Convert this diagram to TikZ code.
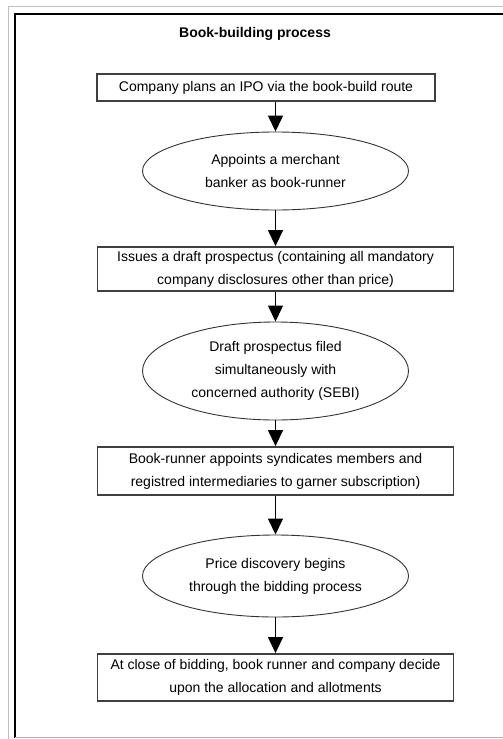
\documentclass[tikz,border=0pt]{standalone}
\usepackage{fontspec}
\setmainfont{Liberation Sans}
\usetikzlibrary{arrows.meta, shapes.geometric}

\begin{document}
\begin{tikzpicture}[x=1pt, y=1pt, font=\fontsize{14}{23}\selectfont,
        stepbox/.style={draw=black!75, line width=1.8pt, rectangle, align=center, inner sep=0pt, minimum width=356pt},
        stepoval/.style={draw=black!80, line width=0.9pt, ellipse, align=center, inner sep=0pt, minimum width=266pt},
        flow/.style={-{Triangle[length=16pt, width=15pt]}, line width=1.3pt}]
        \useasboundingbox (0,0) rectangle (503,-739);
        % frame
        \draw[black!25, line width=1pt] (8,-739) -- (8,-6) -- (503,-6);
        \draw[line width=1.5pt] (15,-738) -- (15,-14) -- (503,-14);
        \draw[black!30, line width=1pt] (15,-737.5) -- (503,-737.5);

        \node[font=\fontsize{14}{17}\selectfont\bfseries] (title) at (255,-34) {Book-building process};

        \node[stepbox, minimum width=338pt, minimum height=27pt] (plan) at (266,-87.5)
                {Company plans an IPO via the book-build route};
        \node[stepoval, minimum height=78pt] (banker) at (275.5,-171)
                {Appoints a merchant\\banker as book-runner};
        \node[stepbox, minimum height=44pt] (draft) at (275.5,-269)
                {Issues a draft prospectus (containing all mandatory\\company disclosures other than price)};
        \node[stepoval, minimum height=98pt] (filed) at (275.5,-371)
                {Draft prospectus filed\\simultaneously with\\concerned authority (SEBI)};
        \node[stepbox, minimum height=48pt] (syndicate) at (275.5,-471)
                {Book-runner appoints syndicates members and\\registred intermediaries to garner subscription)};
        \node[stepoval, minimum height=82pt] (bidding) at (275.5,-576)
                {Price discovery begins\\through the bidding process};
        \node[stepbox, minimum height=47pt] (allot) at (275.5,-677.5)
                {At close of bidding, book runner and company decide\\upon the allocation and allotments};

        \draw[flow] (banker.north |- plan.south) -- (banker.north);
        \draw[flow] (banker.south) -- (draft.north);
        \draw[flow] (draft.south) -- (filed.north);
        \draw[flow] (filed.south) -- (syndicate.north);
        \draw[flow] (syndicate.south) -- (bidding.north);
        \draw[flow] (bidding.south) -- (allot.north);
\end{tikzpicture}
\end{document}
